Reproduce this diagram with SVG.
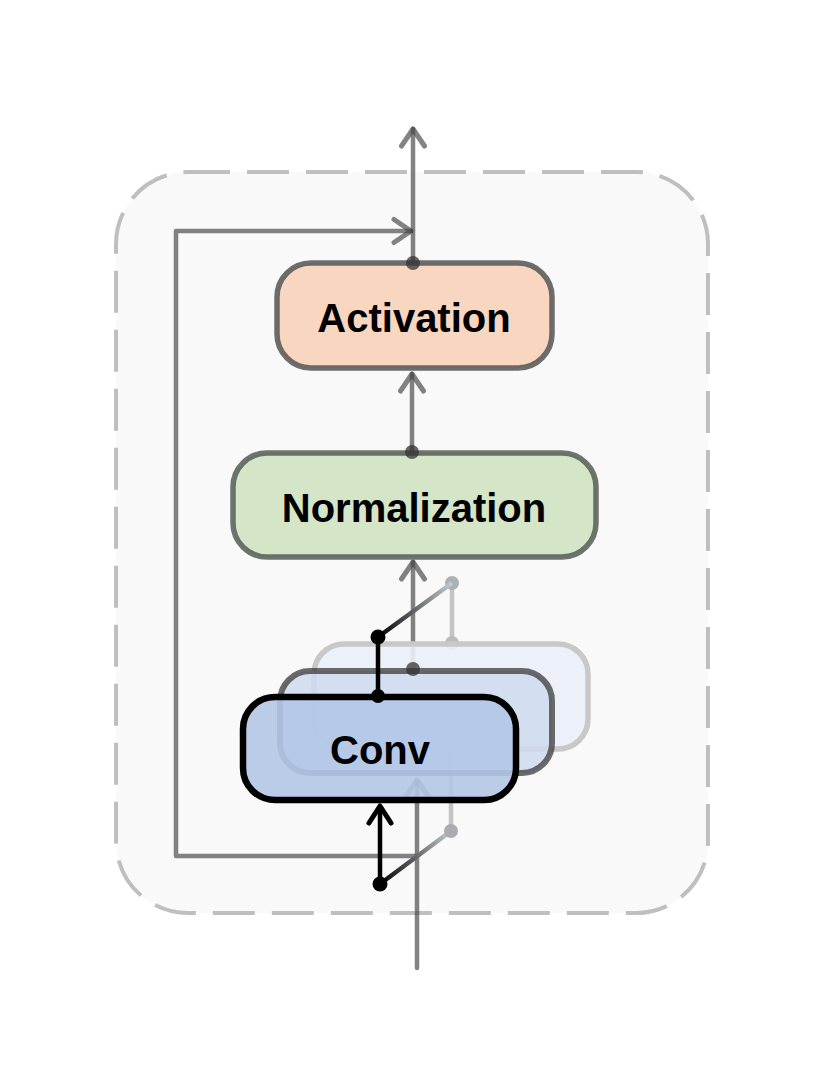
<svg xmlns="http://www.w3.org/2000/svg" width="823" height="1071" viewBox="0 0 823 1071">
<style>
.lbl{font-family:"Liberation Sans",Arial,sans-serif;font-weight:bold;font-size:40px;fill:#000;text-anchor:middle}
.conn{fill:none;stroke:#404040;stroke-opacity:0.65;stroke-width:4.5;stroke-linecap:round;stroke-linejoin:round}
.dot{fill:#333;fill-opacity:0.75}
</style>
<defs>
<marker id="ag" markerUnits="userSpaceOnUse" markerWidth="32" markerHeight="32" viewBox="-24 -16 28 32" refX="0" refY="0" orient="auto">
<path d="M-17,-11.5 L0,0 L-17,11.5" fill="none" stroke="#404040" stroke-opacity="0.65" stroke-width="5" stroke-linecap="round" stroke-linejoin="round"/>
</marker>
<marker id="ab" markerUnits="userSpaceOnUse" markerWidth="32" markerHeight="32" viewBox="-24 -16 28 32" refX="0" refY="0" orient="auto">
<path d="M-17,-11 L0,0 L-17,11" fill="none" stroke="#000" stroke-width="5" stroke-linecap="round" stroke-linejoin="round"/>
</marker>
<linearGradient id="gb" gradientUnits="userSpaceOnUse" x1="380" y1="884" x2="451" y2="831">
<stop offset="0" stop-color="#000"/><stop offset="1" stop-color="#c4ccd2"/>
</linearGradient>
<linearGradient id="gt" gradientUnits="userSpaceOnUse" x1="378" y1="637" x2="452" y2="583">
<stop offset="0" stop-color="#000"/><stop offset="1" stop-color="#c4ccd2"/>
</linearGradient>
</defs>
<rect width="823" height="1071" fill="#fff"/>
<g id="frame">
<rect x="116" y="172" width="592" height="741" rx="72" ry="72" fill="#f9f9f9" stroke="#bfbfbf" stroke-width="4" stroke-dasharray="42 17"/>
</g>
<g id="connectors">
<path class="conn" d="M417,968 V856 H176 V231 H411" marker-end="url(#ag)"/>
<path class="conn" d="M413,263 V129" marker-end="url(#ag)"/>
<path class="conn" d="M412,452 V374" marker-end="url(#ag)"/>
<path class="conn" d="M413,669 V562" marker-end="url(#ag)"/>
<path d="M451,831 V752" fill="none" stroke="#c4c4c4" stroke-width="4.5"/>
<path d="M417,856 V780" fill="none" stroke="#404040" stroke-opacity="0.65" stroke-width="4.5" marker-end="url(#ag)"/>
<path d="M452,583 V643" fill="none" stroke="#c4c4c4" stroke-width="4.5"/>
<circle cx="452" cy="583" r="7" fill="#a9b0b6"/>
<circle cx="452" cy="643" r="7" fill="#bcbcbc"/>
</g>
<g id="conv-rear">
<rect x="314" y="644" width="274" height="105" rx="30" ry="30" fill="#eaeff8" stroke="#c8c8c8" stroke-width="5.5" fill-opacity="0.9"/>
</g>
<g id="conv-mid">
<rect x="280" y="671" width="272" height="102" rx="30" ry="30" fill="#cfdaee" fill-opacity="0.85" stroke="#3a3a3a" stroke-opacity="0.75" stroke-width="6"/>
<circle cx="413" cy="669" r="7" class="dot"/>
</g>
<g id="conv">
<rect x="243" y="697" width="273" height="103" rx="32" ry="32" fill="#b4c7e7" fill-opacity="0.9" stroke="#000" stroke-width="6.5"/>
<text class="lbl" x="380" y="764">Conv</text>
</g>
<g id="conv-io">
<path d="M380,884 L451,831" stroke="url(#gb)" stroke-width="4.5" fill="none"/>
<circle cx="451" cy="831" r="7" fill="#a9adb0"/>
<path d="M380,884 V806" fill="none" stroke="#000" stroke-width="4.5" marker-end="url(#ab)"/>
<circle cx="380" cy="884" r="7.5" fill="#000"/>
<path d="M378,637 L452,583" stroke="url(#gt)" stroke-width="4.5" fill="none"/>
<path d="M378,637 V696" stroke="#000" stroke-width="4.5" fill="none"/>
<circle cx="378" cy="637" r="7.5" fill="#000"/>
<circle cx="378" cy="696" r="7" fill="#000"/>
</g>
<g id="normalization">
<rect x="233" y="453" width="363" height="104" rx="34" ry="34" fill="#d4e5c8" stroke="#555d55" stroke-opacity="0.85" stroke-width="5.5"/>
<text class="lbl" x="414" y="522">Normalization</text>
<circle cx="412" cy="452" r="7" class="dot"/>
</g>
<g id="activation">
<rect x="277" y="263" width="275" height="105" rx="34" ry="34" fill="#f8d6c0" stroke="#555" stroke-opacity="0.85" stroke-width="5.5"/>
<text class="lbl" x="414" y="332">Activation</text>
<circle cx="413" cy="263" r="7" class="dot"/>
</g>
</svg>
